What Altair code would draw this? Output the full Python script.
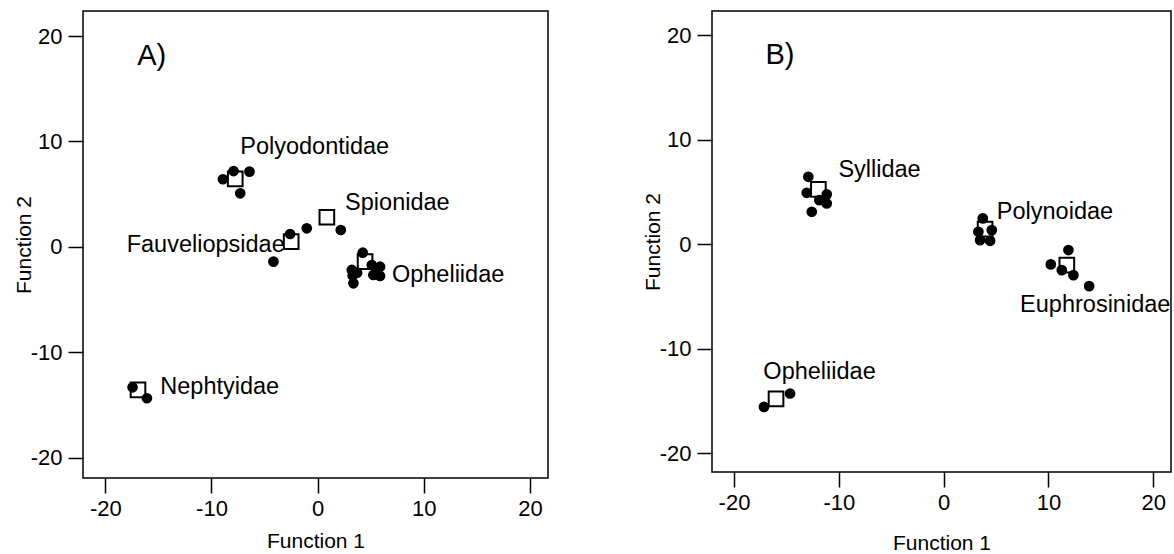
import altair as alt
import pandas as pd

FONT = "Liberation Sans"

# ---- Panel A: group centroids and individual scores ----
a_cent_x = [-7.76, 0.87, -2.49, 4.47, -16.92]
a_cent_y = [6.45, 2.82, 0.50, -1.39, -13.55]

a_pts_x = [-8.92, -7.92, -6.42, -7.29,
           -2.59, -1.02, 2.18, -4.16,
           4.25, 3.22, 3.37, 3.72, 5.10, 5.57, 5.88, 5.25, 5.88, 3.30,
           -17.43, -16.08]
a_pts_y = [6.42, 7.20, 7.14, 5.09,
           1.23, 1.77, 1.61, -1.39,
           -0.54, -2.18, -3.44, -2.44, -1.71, -2.34, -1.87, -2.65, -2.75, -2.70,
           -13.30, -14.34]

a_lab = ["Polyodontidae", "Spionidae", "Opheliidae", "Nephtyidae"]
a_lab_x = [-7.29, 2.59, 7.0, -14.82]
a_lab_y = [9.5, 4.17, -2.65, -13.24]
a_lab_right = ["Fauveliopsidae"]
a_lab_right_x = [-3.1]
a_lab_right_y = [0.19]

# ---- Panel B ----
b_cent_x = [-11.95, 3.96, 11.76, -15.99]
b_cent_y = [5.23, 1.44, -2.01, -14.80]

b_pts_x = [-12.91, -13.06, -12.58, -11.15, -11.15, -11.86,
           3.74, 3.32, 3.48, 4.60, 4.44,
           11.91, 10.23, 11.28, 12.39, 13.89,
           -17.14, -14.65]
b_pts_y = [6.44, 4.91, 3.09, 4.76, 3.89, 4.21,
           2.46, 1.18, 0.38, 1.34, 0.32,
           -0.57, -1.94, -2.49, -2.97, -4.02,
           -15.57, -14.29]

b_lab = ["Syllidae", "Polynoidae", "Opheliidae"]
b_lab_x = [-10.04, 5.08, -17.2]
b_lab_y = [7.08, 3.09, -12.22]
b_lab_center = ["Euphrosinidae"]
b_lab_center_x = [14.47]
b_lab_center_y = [-5.84]

ticks = [-20, -10, 0, 10, 20]
x_dom = [-22.1, 21.7]
HYPHEN = "'' + datum.value"


def panel(cx, cy, px, py, labels, y_dom, w, h, letter, title_pad_x):
    xs = alt.Scale(domain=x_dom, nice=False, zero=False)
    ys = alt.Scale(domain=y_dom, nice=False, zero=False)
    xax = alt.Axis(values=ticks, title="Function 1", titlePadding=title_pad_x,
                   labelExpr=HYPHEN)
    yax = alt.Axis(values=ticks, title="Function 2", labelExpr=HYPHEN)

    cent = alt.Chart(pd.DataFrame({"x": cx, "y": cy})).mark_point(
        shape="square", filled=True, fill="white", stroke="black",
        strokeWidth=2, size=215, opacity=1
    ).encode(
        x=alt.X("x:Q", scale=xs, axis=xax),
        y=alt.Y("y:Q", scale=ys, axis=yax),
    )
    pts = alt.Chart(pd.DataFrame({"x": px, "y": py})).mark_circle(
        color="black", size=115, opacity=1
    ).encode(x=alt.X("x:Q", scale=xs), y=alt.Y("y:Q", scale=ys))

    layers = [cent, pts]
    for (names, lx, ly, align) in labels:
        layers.append(
            alt.Chart(pd.DataFrame({"x": lx, "y": ly, "t": names})).mark_text(
                align=align, baseline="middle", font=FONT, fontSize=23.5,
                color="black"
            ).encode(x=alt.X("x:Q", scale=xs), y=alt.Y("y:Q", scale=ys),
                     text="t:N")
        )
    layers.append(
        alt.Chart(pd.DataFrame({"x": [-17.0], "y": [18.1], "t": [letter]})).mark_text(
            align="left", baseline="middle", font=FONT, fontSize=29,
            color="black"
        ).encode(x=alt.X("x:Q", scale=xs), y=alt.Y("y:Q", scale=ys), text="t:N")
    )
    return alt.layer(*layers).properties(width=w, height=h)


chart_a = panel(a_cent_x, a_cent_y, a_pts_x, a_pts_y,
                [(a_lab, a_lab_x, a_lab_y, "left"),
                 (a_lab_right, a_lab_right_x, a_lab_right_y, "right")],
                [-21.9, 22.37], 465, 467, "A)", 11)
chart_b = panel(b_cent_x, b_cent_y, b_pts_x, b_pts_y,
                [(b_lab, b_lab_x, b_lab_y, "left"),
                 (b_lab_center, b_lab_center_x, b_lab_center_y, "center")],
                [-21.8, 22.3], 459, 461, "B)", 19)

chart = alt.hconcat(chart_a, chart_b, spacing=92).properties(
    padding={"left": 12, "top": 10, "right": 0, "bottom": 0}
).configure_view(
    stroke="black", strokeWidth=1.5
).configure_axis(
    domain=False, grid=False, ticks=True, tickColor="black", tickWidth=1.5,
    tickSize=15, labelFont=FONT, labelFontSize=22, labelColor="black",
    titleFont=FONT, titleFontSize=21, titleFontWeight="normal",
    titleColor="black", labelPadding=5
).configure_axisY(titlePadding=-4, labelPadding=6)

chart.save("out.html", embed_options={"renderer": "svg", "actions": False})
